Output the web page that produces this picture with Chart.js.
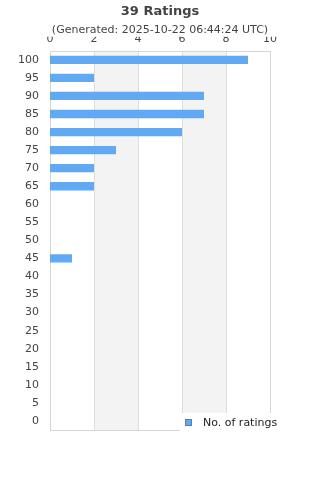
<!DOCTYPE html>
<html>
<head>
<meta charset="utf-8">
<script src="https://cdn.jsdelivr.net/npm/chart.js@4/dist/chart.umd.min.js"></script>
<style>
html,body{margin:0;padding:0;background:#fff;}
#wrap{width:320px;height:480px;position:relative;}
</style>
</head>
<body>
<div id="wrap"><canvas id="c" width="320" height="480"></canvas></div>
<script>
const titleText = '39 Ratings';
const subtitleText = '(Generated: 2025-10-22 06:44:24 UTC)';
const seriesName = 'No. of ratings';
const categories = ['100','95','90','85','80','75','70','65','60','55','50','45','40','35','30','25','20','15','10','5','0'];
const ratingCounts = [9,2,7,7,6,3,2,2,0,0,0,1,0,0,0,0,0,0,0,0,0];
const xTicks = [0,2,4,6,8,10];

const FONT = "'DejaVu Sans', sans-serif";
const TEXT = '#444';
const BAR = '#62a9f4';

const bandsPlugin = {
  id: 'bands',
  beforeDatasetsDraw(chart) {
    const {ctx, chartArea: a, scales: {x}} = chart;
    ctx.save();
    ctx.fillStyle = '#f3f3f3';
    for (let i = 1; i < xTicks.length - 1; i += 2) {
      const x0 = x.getPixelForValue(xTicks[i]);
      const x1 = x.getPixelForValue(xTicks[i + 1]);
      ctx.fillRect(x0, a.top, x1 - x0, a.bottom - a.top);
    }
    ctx.strokeStyle = '#dddddd';
    ctx.lineWidth = 1;
    for (let i = 1; i < xTicks.length - 1; i++) {
      const px = Math.round(x.getPixelForValue(xTicks[i])) + 0.5;
      ctx.beginPath(); ctx.moveTo(px, a.top); ctx.lineTo(px, a.bottom); ctx.stroke();
    }
    ctx.strokeStyle = '#d6d6d6';
    ctx.strokeRect(Math.round(a.left) + 0.5, Math.round(a.top) + 0.5,
      Math.round(a.right - a.left), Math.round(a.bottom - a.top));
    ctx.restore();
  },
  afterDraw(chart) {
    const {ctx} = chart;
    ctx.save();
    ctx.fillStyle = '#fff';
    ctx.fillRect(180, 413, 140, 27);
    ctx.fillStyle = BAR;
    ctx.fillRect(185.5, 419.5, 6, 6);
    ctx.strokeStyle = '#777';
    ctx.lineWidth = 1;
    ctx.strokeRect(185.5, 419.5, 6, 6);
    ctx.fillStyle = '#222';
    ctx.font = '11px ' + FONT;
    ctx.textBaseline = 'middle';
    ctx.textAlign = 'left';
    ctx.fillText(seriesName, 203, 423);
    ctx.restore();
  }
};

new Chart(document.getElementById('c'), {
  type: 'bar',
  data: {
    labels: categories,
    datasets: [{
      label: seriesName,
      data: ratingCounts,
      backgroundColor: BAR,
      borderWidth: 0,
      barPercentage: 0.46,
      categoryPercentage: 1
    }]
  },
  options: {
    indexAxis: 'y',
    responsive: false,
    animation: false,
    devicePixelRatio: 1,
    layout: { padding: { left: 0, right: 0, top: 0, bottom: 50 } },
    plugins: {
      legend: { display: false },
      tooltip: { enabled: false },
      title: {
        display: true, text: titleText, color: TEXT,
        font: { family: FONT, size: 13, weight: 'bold' },
        padding: { top: 4, bottom: 4 }
      },
      subtitle: {
        display: true, text: subtitleText, color: TEXT,
        font: { family: FONT, size: 11 },
        padding: { top: 0, bottom: 0 }
      }
    },
    scales: {
      x: {
        position: 'top',
        min: 0, max: 10,
        afterBuildTicks(s) { s.ticks = xTicks.map(v => ({ value: v })); },
        afterFit(s) { s.height = 14; },
        grid: { display: false, drawTicks: false },
        border: { display: false },
        ticks: { color: TEXT, font: { family: FONT, size: 11 }, padding: 5, maxRotation: 0 }
      },
      y: {
        afterFit(s) { s.width = 50; },
        grid: { display: false, drawTicks: false },
        border: { display: false },
        ticks: { color: TEXT, font: { family: FONT, size: 11 }, padding: 11, autoSkip: false }
      },
      yRight: {
        type: 'category',
        labels: categories,
        position: 'right',
        afterFit(s) { s.width = 50; },
        grid: { display: false, drawTicks: false },
        border: { display: false },
        ticks: { display: false }
      }
    }
  },
  plugins: [bandsPlugin]
});
</script>
</body>
</html>
